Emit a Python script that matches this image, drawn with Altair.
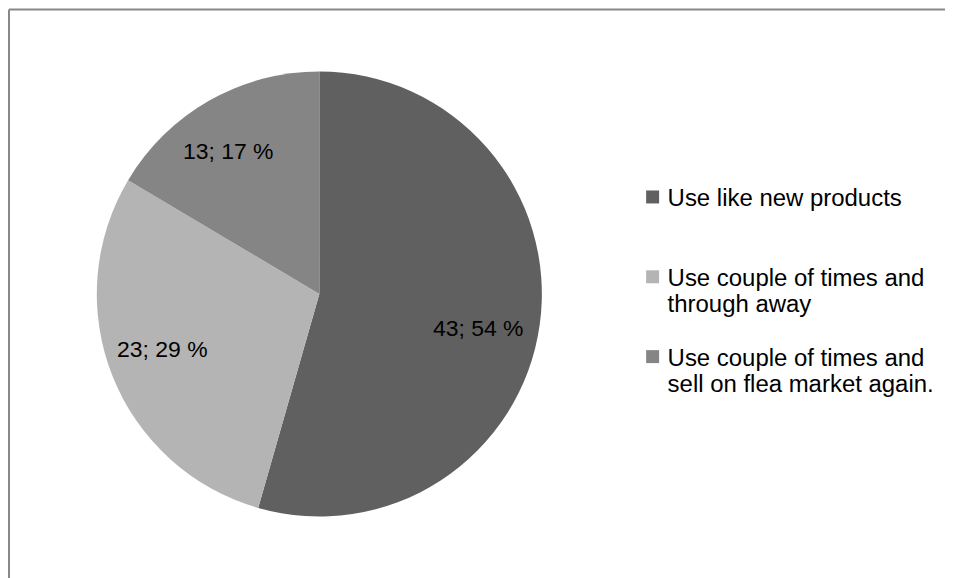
import altair as alt
import pandas as pd

categories = [
    "Use like new products",
    "Use couple of times and|through away",
    "Use couple of times and|sell on flea market again.",
]
values = [43, 23, 13]
percents = [54, 29, 17]
colors = ["#606060", "#b4b4b4", "#858585"]

df = pd.DataFrame({
    "category": categories,
    "value": values,
    "pct": percents,
    "idx": list(range(len(categories))),
})
df["label"] = [f"{v}; {p} %" for v, p in zip(values, percents)]

W, H = 938, 570
CX, CY, R = 311, 285, 223
FONT = "Liberation Sans"

base = alt.Chart(df)

color = alt.Color(
    "category:N",
    scale=alt.Scale(domain=categories, range=colors),
    legend=alt.Legend(
        title=None,
        orient="none",
        legendX=633,
        legendY=166,
        symbolType="M-1,0.5L1,0.5L1,2.5L-1,2.5Z",
        symbolSize=169,
        symbolStrokeWidth=0,
        labelFont=FONT,
        labelFontSize=24,
        labelColor="#000000",
        labelLimit=400,
        labelExpr="split(datum.label, '|')",
        labelBaseline="top",
        labelOffset=3,
        rowPadding=18,
        gridAlign="all",
    ),
)

pie = base.mark_arc(radius=R).encode(
    theta=alt.Theta("value:Q", stack=True),
    order=alt.Order("idx:Q"),
    color=color,
    x=alt.value(CX),
    y=alt.value(CY),
)

# per-slice label placement (radius, angular offset in radians)
label_place = [(163, 0.077), (167, 0.036), (169, -0.054)]

text_layers = []
for i, (rad, toff) in enumerate(label_place):
    text_layers.append(
        base.mark_text(
            radius=rad, thetaOffset=toff, font=FONT, fontSize=23, color="#000000"
        ).encode(
            theta=alt.Theta("value:Q", stack=True),
            order=alt.Order("idx:Q"),
            text=alt.condition(f"datum.idx == {i}", "label:N", alt.value("")),
            x=alt.value(CX),
            y=alt.value(CY),
        )
    )

frame = alt.Chart(alt.Data(values=[{}]))
top_rule = frame.mark_rule(color="#888888", strokeWidth=2).encode(
    x=alt.value(0), x2=alt.value(W), y=alt.value(0)
)
left_rule = frame.mark_rule(color="#888888", strokeWidth=2).encode(
    x=alt.value(0), y=alt.value(0), y2=alt.value(H)
)

chart = alt.layer(pie, *text_layers, top_rule, left_rule).properties(
    width=W, height=H, padding=0, background="#ffffff"
).configure_view(stroke=None)

chart.save("out.html", embed_options={"renderer": "svg", "actions": False})
